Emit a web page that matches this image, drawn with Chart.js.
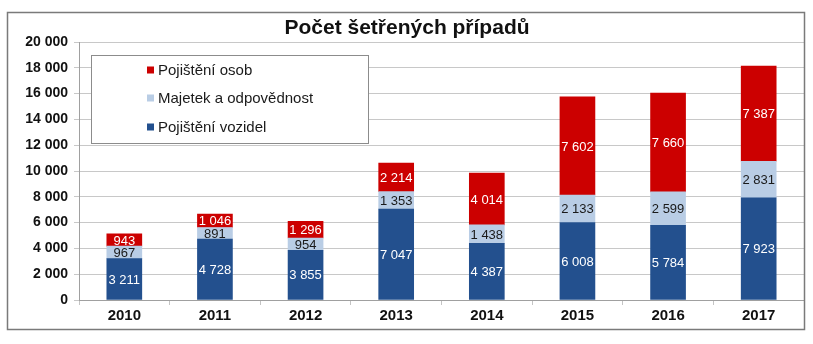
<!DOCTYPE html>
<html>
<head>
<meta charset="utf-8">
<script src="https://cdn.jsdelivr.net/npm/chart.js@4/dist/chart.umd.min.js"></script>
<style>
html,body{margin:0;padding:0;background:#fff;}
#wrap{width:813px;height:344px;position:relative;}
</style>
</head>
<body>
<div id="wrap"><canvas id="c" width="813" height="344"></canvas></div>
<script>
const categories = ['2010','2011','2012','2013','2014','2015','2016','2017'];
const vozidel = [3211, 4728, 3855, 7047, 4387, 6008, 5784, 7923];
const majetek = [967, 891, 954, 1353, 1438, 2133, 2599, 2831];
const osob = [943, 1046, 1296, 2214, 4014, 7602, 7660, 7387];
const seriesNames = ['Pojištění vozidel', 'Majetek a odpovědnost', 'Pojištění osob'];
const titleText = 'Počet šetřených případů';
const yTicks = [0, 2000, 4000, 6000, 8000, 10000, 12000, 14000, 16000, 18000, 20000];

const colors = ['#23508E', '#B9CDE5', '#CC0000'];
const labelColors = ['#ffffff', '#1a1a1a', '#ffffff'];
const FONT = '"Liberation Sans", Arial, sans-serif';

function fmt(v) {
  const s = String(Math.round(v));
  return s.replace(/\B(?=(\d{3})+(?!\d))/g, '\u00a0');
}

const decor = {
  id: 'decor',
  beforeDraw(chart) {
    const ctx = chart.ctx;
    ctx.save();
    ctx.fillStyle = '#fff';
    ctx.fillRect(0, 0, chart.width, chart.height);
    ctx.restore();
  },
  afterDraw(chart) {
    const ctx = chart.ctx;
    ctx.save();
    // outer border
    ctx.strokeStyle = '#7a7a7a';
    ctx.lineWidth = 1.5;
    ctx.strokeRect(7.5, 12.5, 797, 317);
    // title
    ctx.fillStyle = '#111';
    ctx.font = 'bold 21px ' + FONT;
    ctx.textAlign = 'center';
    ctx.textBaseline = 'middle';
    ctx.fillText(titleText, 407, 28);
    // data labels
    ctx.font = '13px ' + FONT;
    chart.data.datasets.forEach((ds, i) => {
      const meta = chart.getDatasetMeta(i);
      meta.data.forEach((bar, j) => {
        const cy = (bar.y + bar.base) / 2;
        ctx.fillStyle = labelColors[i];
        ctx.fillText(fmt(ds.data[j]), bar.x, cy + 1);
      });
    });
    // legend
    ctx.fillStyle = '#fff';
    ctx.fillRect(91, 55, 277, 88);
    ctx.strokeStyle = '#8c8c8c';
    ctx.lineWidth = 1;
    ctx.strokeRect(91.5, 55.5, 277, 88);
    const rows = [70, 98, 127];
    const order = [2, 1, 0];
    ctx.font = '15px ' + FONT;
    ctx.textAlign = 'left';
    order.forEach((si, k) => {
      ctx.fillStyle = colors[si];
      ctx.fillRect(147, rows[k] - 3.5, 7, 7);
      ctx.fillStyle = '#1a1a1a';
      ctx.fillText(seriesNames[si], 158, rows[k] + 1);
    });
    ctx.restore();
  }
};

new Chart(document.getElementById('c'), {
  type: 'bar',
  data: {
    labels: categories,
    datasets: [
      { label: seriesNames[0], data: vozidel, backgroundColor: colors[0] },
      { label: seriesNames[1], data: majetek, backgroundColor: colors[1] },
      { label: seriesNames[2], data: osob, backgroundColor: colors[2] }
    ]
  },
  options: {
    responsive: false,
    animation: false,
    devicePixelRatio: 1,
    layout: { padding: { left: 8, right: 9, top: 42, bottom: 15 } },
    datasets: { bar: { barThickness: 35 } },
    plugins: { legend: { display: false }, title: { display: false }, tooltip: { enabled: false } },
    scales: {
      x: {
        stacked: true,
        afterFit(s) { s.height = 29; },
        grid: { drawOnChartArea: false, drawTicks: true, tickLength: 5, color: '#c4c4c4', offset: true },
        border: { display: true, color: '#a0a0a0' },
        ticks: { padding: 2, color: '#111', font: { family: FONT, size: 15, weight: 'bold' } }
      },
      y: {
        stacked: true,
        min: 0,
        max: 20000,
        afterFit(s) { s.width = 71; },
        afterBuildTicks(s) { s.ticks = yTicks.map(v => ({ value: v })); },
        grid: { color: '#c8c8c8', tickLength: 5, drawTicks: true },
        border: { display: true, color: '#a0a0a0' },
        ticks: {
          padding: 6,
          color: '#111',
          font: { family: FONT, size: 14, weight: 'bold' },
          callback: (v) => fmt(v)
        }
      }
    }
  },
  plugins: [decor]
});
</script>
</body>
</html>
